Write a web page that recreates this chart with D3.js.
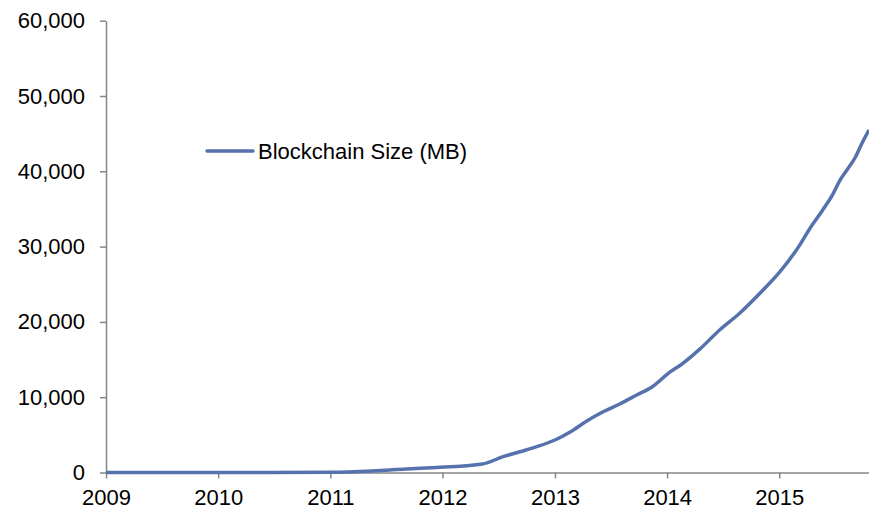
<!DOCTYPE html>
<html>
<head>
<meta charset="utf-8">
<script src="https://cdn.jsdelivr.net/npm/d3@7"></script>
<style>
  body { margin: 0; background: #fff; }
  .axis path, .axis line { stroke: #868686; stroke-width: 1.5; }
  .axis text { font-family: "Liberation Sans", Arial, sans-serif; font-size: 22px; fill: #000; }
  .legend text { font-family: "Liberation Sans", Arial, sans-serif; font-size: 22px; fill: #000; }
</style>
</head>
<body>
<div id="chart"></div>
<script>
// Blockchain size chart

var width = 869
var height = 510

// data
const dates = ['2009-01-01', '2010-01-01', '2011-01-01', '2011-05-18', '2011-09-05', '2011-12-24',
  '2012-05-10', '2012-07-16', '2012-09-09', '2012-11-03', '2013-01-01', '2013-02-21',
  '2013-04-16', '2013-06-07', '2013-07-31', '2013-09-24', '2013-11-14', '2014-01-12',
  '2014-02-14', '2014-04-20', '2014-06-21', '2014-08-25', '2014-10-30', '2015-01-04',
  '2015-03-10', '2015-04-09', '2015-05-23', '2015-06-25', '2015-07-16', '2015-08-08',
  '2015-09-06', '2015-09-28', '2015-10-20']
const sizeMB = [0, 5, 30, 200, 460, 690,
  1130, 2100, 2760, 3430, 4320, 5420,
  6880, 8070, 9100, 10290, 11390, 13390,
  14280, 16490, 18920, 21140, 23800, 26700,
  30300, 32300, 34900, 37000, 38700, 40100,
  41900, 43800, 45490]
const yTicks = [0, 10000, 20000, 30000, 40000, 50000, 60000]
const seriesName = 'Blockchain Size (MB)'

const parse = d3.timeParse('%Y-%m-%d')
const dataset = dates.map((d, i) => ({ date: parse(d), value: sizeMB[i] }))

const xScale = d3.scaleTime()
  .domain([parse('2009-01-01'), parse('2015-10-20')])
  .range([106, 869])

const yScale = d3.scaleLinear()
  .domain([0, 60000])
  .range([472.5, 20.7])

const svg = d3.select('#chart')
  .append('svg')
  .attr('width', width)
  .attr('height', height)

// axes
const xAxis = d3.axisBottom(xScale)
  .ticks(d3.timeYear.every(1))
  .tickFormat(d3.timeFormat('%Y'))
  .tickSize(6)
  .tickSizeOuter(0)
  .tickPadding(11)

const yAxis = d3.axisLeft(yScale)
  .tickValues(yTicks)
  .tickFormat(d3.format(','))
  .tickSize(6)
  .tickSizeOuter(0)
  .tickPadding(15)

svg.append('g')
  .attr('class', 'axis')
  .attr('transform', `translate(0, ${yScale(0)})`)
  .call(xAxis)

svg.append('g')
  .attr('class', 'axis')
  .attr('transform', `translate(${xScale.range()[0]}, 0)`)
  .call(yAxis)

// the line
const line = d3.line()
  .x(d => xScale(d.date))
  .y(d => yScale(d.value))
  .curve(d3.curveMonotoneX)

svg.append('path')
  .datum(dataset)
  .attr('fill', 'none')
  .attr('stroke', '#5672ac')
  .attr('stroke-width', 3.5)
  .attr('stroke-linejoin', 'round')
  .attr('d', line)

// legend
const legend = svg.append('g')
  .attr('class', 'legend')
  .attr('transform', 'translate(207, 151)')

legend.append('line')
  .attr('x1', 0)
  .attr('x2', 46)
  .attr('stroke', '#5672ac')
  .attr('stroke-width', 3.5)
  .attr('stroke-linecap', 'round')

legend.append('text')
  .attr('x', 51)
  .attr('y', 8)
  .text(seriesName)
</script>
</body>
</html>
